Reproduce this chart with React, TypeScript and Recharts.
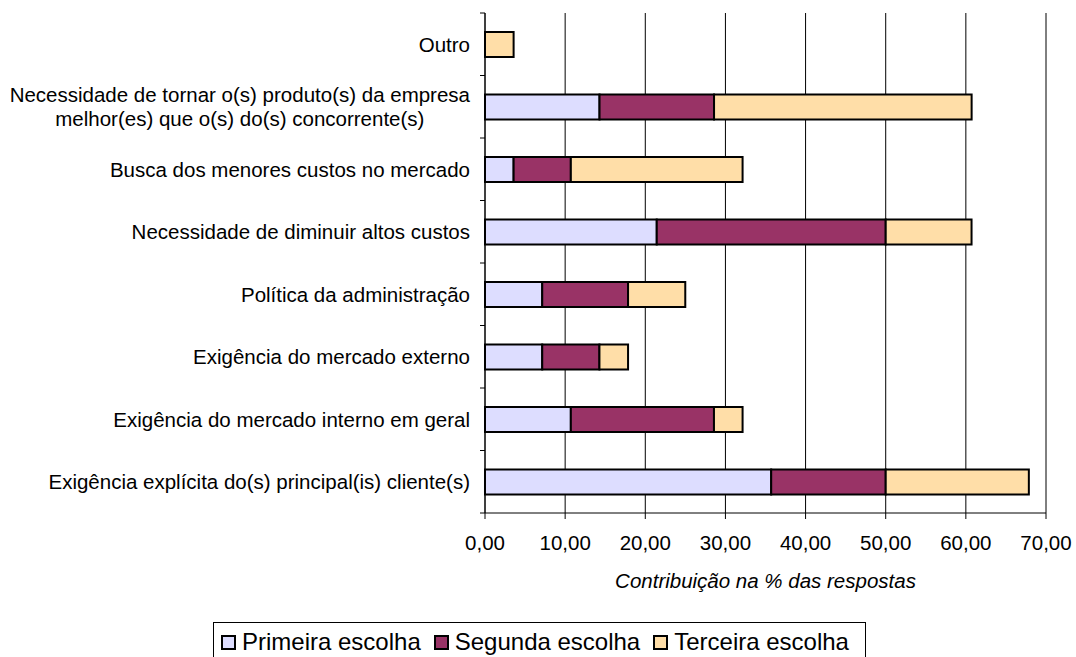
import React from "react";
import {
  BarChart,
  Bar,
  XAxis,
  YAxis,
  CartesianGrid,
  Label,
} from "recharts";

const categories = [
  "Outro",
  "Necessidade de tornar o(s) produto(s) da empresa\nmelhor(es) que o(s) do(s) concorrente(s)",
  "Busca dos menores custos no mercado",
  "Necessidade de diminuir altos custos",
  "Política da administração",
  "Exigência do mercado externo",
  "Exigência do mercado interno em geral",
  "Exigência explícita do(s) principal(is) cliente(s)",
];

const primeira = [0, 14.29, 3.57, 21.43, 7.14, 7.14, 10.71, 35.71];
const segunda = [0, 14.29, 7.14, 28.57, 10.71, 7.14, 17.86, 14.29];
const terceira = [3.57, 32.14, 21.43, 10.71, 7.14, 3.57, 3.57, 17.86];

const xTicks = [0, 10, 20, 30, 40, 50, 60, 70];

const seriesNames = ["Primeira escolha", "Segunda escolha", "Terceira escolha"];
const seriesColors = ["#DDDDFF", "#993366", "#FFDEA8"];

const data = categories.map((name, i) => ({
  name,
  primeira: primeira[i],
  segunda: segunda[i],
  terceira: terceira[i],
}));

const FONT = '"Liberation Sans", Arial, sans-serif';
const LABEL_SIZE = 20.5;
const PLOT_TOP = 13;
const PLOT_BOTTOM = 513;
const BAND = (PLOT_BOTTOM - PLOT_TOP) / categories.length;

let ctx: CanvasRenderingContext2D | null = null;
function textWidth(s: string) {
  if (!ctx) ctx = document.createElement("canvas").getContext("2d");
  if (!ctx) return s.length * 10;
  ctx.font = `${LABEL_SIZE}px ${FONT}`;
  return ctx.measureText(s).width;
}

function CategoryTick(props: any) {
  const { x, y, payload, index } = props;
  const axisX = x + 15;
  const lines = String(payload.value).split("\n");
  const lh = 24;
  let textEl;
  if (lines.length === 1) {
    textEl = (
      <text x={x} y={y} dy="0.36em" textAnchor="end" fontSize={LABEL_SIZE} fontFamily={FONT} fill="#000">
        {lines[0]}
      </text>
    );
  } else {
    const w = Math.max(...lines.map(textWidth));
    const cx = x - w / 2;
    textEl = (
      <text textAnchor="middle" fontSize={LABEL_SIZE} fontFamily={FONT} fill="#000">
        {lines.map((l, i) => (
          <tspan key={i} x={cx} y={y + (i - (lines.length - 1) / 2) * lh} dy="0.36em">
            {l}
          </tspan>
        ))}
      </text>
    );
  }
  return (
    <g>
      <line x1={axisX - 5} x2={axisX} y1={y - BAND / 2} y2={y - BAND / 2} stroke="#000" />
      {index === categories.length - 1 && (
        <line x1={axisX - 5} x2={axisX} y1={y + BAND / 2} y2={y + BAND / 2} stroke="#000" />
      )}
      {textEl}
    </g>
  );
}

export default function App() {
  return (
    <div style={{ position: "absolute", left: 0, top: 0, width: 1076, height: 657, background: "#fff", fontFamily: FONT }}>
      <BarChart
        width={1076}
        height={657}
        data={data}
        layout="vertical"
        margin={{ top: PLOT_TOP, right: 30, left: 0, bottom: 657 - PLOT_BOTTOM - 90 }}
      >
        <CartesianGrid horizontal={false} stroke="#000" />
        <XAxis
          type="number"
          domain={[0, 70]}
          ticks={xTicks}
          interval={0}
          height={90}
          tickSize={6}
          tickMargin={16}
          stroke="#000"
          tick={{ fill: "#000", fontSize: LABEL_SIZE, fontFamily: FONT }}
          tickFormatter={(v: number) => v.toFixed(2).replace(".", ",")}
        >
          <Label
            value="Contribuição na % das respostas"
            position="insideBottom"
            offset={15}
            style={{ fontStyle: "italic", fontSize: LABEL_SIZE, fontFamily: FONT, fill: "#000" }}
          />
        </XAxis>
        <YAxis
          type="category"
          dataKey="name"
          width={485}
          tickSize={5}
          tickMargin={10}
          tickLine={false}
          stroke="#000"
          interval={0}
          tick={<CategoryTick />}
        />
        <Bar dataKey="primeira" name={seriesNames[0]} stackId="a" fill={seriesColors[0]} stroke="#000" strokeWidth={2} barSize={25} isAnimationActive={false} />
        <Bar dataKey="segunda" name={seriesNames[1]} stackId="a" fill={seriesColors[1]} stroke="#000" strokeWidth={2} barSize={25} isAnimationActive={false} />
        <Bar dataKey="terceira" name={seriesNames[2]} stackId="a" fill={seriesColors[2]} stroke="#000" strokeWidth={2} barSize={25} isAnimationActive={false} />
      </BarChart>
      <div
        style={{
          position: "absolute",
          left: 213,
          top: 622,
          width: 653,
          height: 60,
          border: "1px solid #000",
          boxSizing: "border-box",
          display: "flex",
          alignItems: "flex-start",
          paddingLeft: 7,
          paddingTop: 5,
          fontSize: 24,
          lineHeight: "28px",
          color: "#000",
          whiteSpace: "nowrap",
        }}
      >
        {seriesNames.map((n, i) => (
          <div key={n} style={{ display: "flex", alignItems: "center", marginRight: 13 }}>
            <span
              style={{
                display: "inline-block",
                width: 15,
                height: 15,
                boxSizing: "border-box",
                border: "2px solid #000",
                background: seriesColors[i],
                marginRight: 6,
              }}
            />
            <span>{n}</span>
          </div>
        ))}
      </div>
    </div>
  );
}
